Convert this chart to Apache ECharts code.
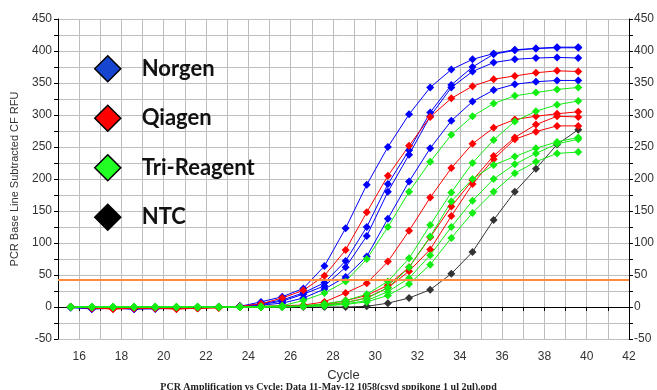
<!DOCTYPE html>
<html>
<head>
<meta charset="utf-8">
<script src="https://cdn.jsdelivr.net/npm/echarts@6/dist/echarts.min.js"></script>
<style>
  html, body { margin: 0; padding: 0; background: #fff; }
  #chart { width: 657px; height: 390px; }
</style>
</head>
<body>
<div id="chart"></div>
<script>
  // cycle positions as plotted (cycles 16..40)
  let cycles = [15.6, 16.6, 17.6, 18.6, 19.6, 20.6, 21.6, 22.6, 23.6, 24.6, 25.6, 26.6, 27.6,
                28.6, 29.6, 30.6, 31.6, 32.6, 33.6, 34.6, 35.6, 36.6, 37.6, 38.6, 39.6];

  let norgen1 = [-1, -3, -2, -3, -2, -2, -1, 0, 1, 8, 16, 29, 64, 123, 191, 250, 301, 343, 371, 387, 396, 402, 404, 406, 406];
  let norgen2 = [0, -3, -2, -3, -3, -2, -1, 0, 1, 5, 11, 22, 38, 72, 125, 192, 245, 304, 347, 375, 395, 401, 404, 405, 405];
  let norgen3 = [0, -2, -2, -3, -2, -2, -1, 0, 1, 4, 9, 20, 33, 62, 111, 180, 238, 298, 343, 368, 382, 387, 389, 390, 389];
  let norgen4 = [0, -2, -1, -2, -2, -1, -1, 0, 0, 3, 6, 14, 28, 47, 79, 138, 196, 248, 291, 321, 339, 348, 352, 354, 354];

  let qiagen1 = [0, -2, -3, -2, -2, -3, -2, 0, 1, 5, 14, 26, 49, 89, 148, 205, 252, 297, 326, 345, 356, 361, 366, 369, 368];
  let qiagen2 = [0, -1, -3, -2, -2, -3, -2, -1, 0, 1, 2, 3, 8, 22, 37, 71, 119, 171, 217, 255, 280, 293, 298, 302, 305];
  let qiagen3 = [0, -1, -2, -2, -1, -2, -2, -1, 0, 1, 1, 2, 4, 10, 18, 34, 62, 109, 157, 198, 236, 265, 285, 298, 297];
  let qiagen4 = [0, -1, -2, -1, -1, -2, -1, -1, 0, 0, 1, 1, 3, 7, 14, 30, 56, 90, 142, 192, 231, 262, 274, 283, 283];

  let tri1 = [0, 0, 0, 0, 0, 0, 0, 0, 0, 1, 2, 10, 22, 40, 75, 125, 180, 227, 269, 298, 318, 330, 335, 340, 343];
  let tri2 = [0, 0, 0, 0, 0, 0, 0, 0, 0, 0, 1, 2, 5, 10, 20, 40, 76, 128, 179, 225, 261, 290, 306, 316, 322];
  let tri3 = [0, 0, 0, 0, 0, 0, 0, 0, 0, 0, 1, 1, 3, 7, 14, 30, 62, 110, 165, 200, 222, 235, 248, 258, 265];
  let tri4 = [0, 0, 0, 0, 0, 0, 0, 0, 0, 0, 0, 1, 2, 5, 10, 24, 45, 81, 125, 166, 200, 223, 240, 255, 262];
  let tri5 = [0, 0, 0, 0, 0, 0, 0, 0, 0, 0, 0, 1, 2, 4, 8, 18, 36, 66, 108, 147, 180, 209, 227, 240, 242];

  let ntc1 = [0, 0, -1, 0, 0, -1, 0, 0, 0, 0, 0, 0, 0, 0, 1, 6, 14, 27, 52, 86, 136, 180, 216, 254, 277];

  let threshold = 42;

  let groups = [
    {name: 'NTC', color: '#333333', legendColor: '#000000', runs: [ntc1]},
    {name: 'Norgen', color: '#0000ff', legendColor: '#1646d0', runs: [norgen1, norgen2, norgen3, norgen4]},
    {name: 'Qiagen', color: '#ff0000', legendColor: '#ff0000', runs: [qiagen1, qiagen2, qiagen3, qiagen4]},
    {name: 'Tri-Reagent', color: '#11ee11', legendColor: '#22ff22', runs: [tri1, tri2, tri3, tri4, tri5]}
  ];

  let series = [];
  groups.forEach(function (g) {
    g.runs.forEach(function (run) {
      series.push({
        name: g.name,
        type: 'line',
        data: cycles.map(function (c, i) { return [c, run[i]]; }),
        symbol: 'diamond',
        symbolSize: 8,
        color: g.color,
        lineStyle: {width: 1, color: g.color},
        itemStyle: {color: g.color},
        animation: false
      });
    });
  });
  series[0].markLine = {
    silent: true,
    symbol: 'none',
    label: {show: false},
    lineStyle: {color: '#ff8a3d', width: 2, type: 'solid'},
    data: [{yAxis: threshold}]
  };

  let chart = echarts.init(document.getElementById('chart'));
  let option = {
    backgroundColor: '#fff',
    title: {
      text: 'PCR Amplification vs Cycle: Data 11-May-12 1058(csvd sppikong 1 ul 2ul).opd',
      left: 'center',
      top: 377,
      textStyle: {fontSize: 10, fontWeight: 'bold', fontFamily: 'Liberation Serif', color: '#222'}
    },
    legend: {
      orient: 'vertical',
      left: 89,
      top: 50,
      itemWidth: 26,
      itemHeight: 26,
      itemGap: 22,
      icon: 'diamond',
      selectedMode: false,
      itemStyle: {borderColor: '#000', borderWidth: 1.5},
      textStyle: {fontSize: 22, fontWeight: 'bold', fontFamily: 'Lato', color: '#111', padding: [0, 0, 0, 16]},
      data: [
        {name: 'Norgen', itemStyle: {color: groups[1].legendColor}},
        {name: 'Qiagen', itemStyle: {color: groups[2].legendColor}},
        {name: 'Tri-Reagent', itemStyle: {color: groups[3].legendColor}},
        {name: 'NTC', itemStyle: {color: groups[0].legendColor}}
      ]
    },
    grid: {left: 58, right: 26, top: 19, bottom: 51},
    xAxis: {
      type: 'value',
      min: 15,
      max: 42,
      interval: 1,
      name: 'Cycle',
      nameLocation: 'middle',
      nameGap: 30,
      nameTextStyle: {fontSize: 13, color: '#333', fontFamily: 'Liberation Sans'},
      axisLine: {show: true, lineStyle: {color: '#000'}},
      axisTick: {show: true, length: 4, lineStyle: {color: '#000'}},
      axisLabel: {
        margin: 12,
        fontSize: 12,
        color: '#333',
        fontFamily: 'Liberation Sans',
        formatter: function (v) { return v % 2 === 0 ? v : ''; }
      },
      splitLine: {show: true, lineStyle: {color: '#bdbdbd'}}
    },
    yAxis: [
      {
        type: 'value',
        min: -50,
        max: 450,
        interval: 25,
        name: 'PCR Base Line Subtracted CF RFU',
        nameLocation: 'middle',
        nameGap: 38,
        nameTextStyle: {fontSize: 11, color: '#333', fontFamily: 'Liberation Sans'},
        axisLine: {show: true, lineStyle: {color: '#000'}},
        axisTick: {show: true, length: 4, lineStyle: {color: '#000'}},
        axisLabel: {
          margin: 6,
          fontSize: 12,
          color: '#333',
          fontFamily: 'Liberation Sans',
          formatter: function (v) { return v % 50 === 0 ? v : ''; }
        },
        splitLine: {show: true, lineStyle: {color: '#bdbdbd'}}
      },
      {
        type: 'value',
        position: 'right',
        min: -50,
        max: 450,
        interval: 25,
        axisLine: {show: true, lineStyle: {color: '#000'}},
        axisTick: {show: true, length: 4, lineStyle: {color: '#000'}},
        axisLabel: {
          margin: 5,
          fontSize: 12,
          color: '#333',
          fontFamily: 'Liberation Sans',
          formatter: function (v) { return v % 50 === 0 ? v : ''; }
        },
        splitLine: {show: false}
      }
    ],
    series: series
  };
  chart.setOption(option);
</script>
</body>
</html>
